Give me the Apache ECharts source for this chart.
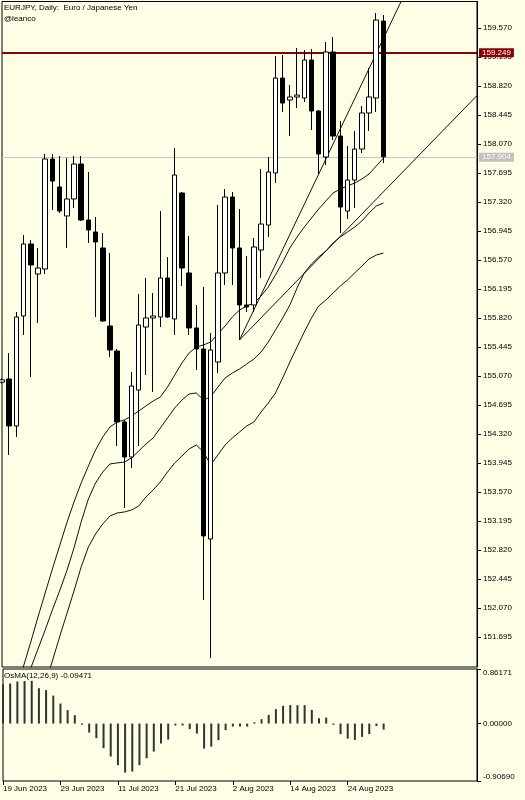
<!DOCTYPE html>
<html><head><meta charset="utf-8">
<script src="https://cdn.jsdelivr.net/npm/echarts@6/dist/echarts.min.js"></script>
<style>html,body{margin:0;padding:0;background:#fefee6}#c{width:525px;height:800px}</style>
</head><body><div id="c"></div>
<script>
const dates = ['19 Jun 2023','20 Jun 2023','21 Jun 2023','22 Jun 2023','23 Jun 2023','26 Jun 2023','27 Jun 2023','28 Jun 2023','29 Jun 2023','30 Jun 2023',
'3 Jul 2023','4 Jul 2023','5 Jul 2023','6 Jul 2023','7 Jul 2023','10 Jul 2023','11 Jul 2023','12 Jul 2023','13 Jul 2023','14 Jul 2023','17 Jul 2023','18 Jul 2023','19 Jul 2023','20 Jul 2023','21 Jul 2023','24 Jul 2023','25 Jul 2023','26 Jul 2023','27 Jul 2023','28 Jul 2023','31 Jul 2023',
'1 Aug 2023','2 Aug 2023','3 Aug 2023','4 Aug 2023','7 Aug 2023','8 Aug 2023','9 Aug 2023','10 Aug 2023','11 Aug 2023','14 Aug 2023','15 Aug 2023','16 Aug 2023','17 Aug 2023','18 Aug 2023','21 Aug 2023','22 Aug 2023','23 Aug 2023','24 Aug 2023','25 Aug 2023','28 Aug 2023','29 Aug 2023','30 Aug 2023','31 Aug 2023'];

const open = [154.99,155.031,154.423,155.846,156.777,156.389,156.453,157.876,157.514,157.139,157.359,157.811,157.087,156.932,156.725,155.716,155.393,154.475,154.022,154.888,155.703,155.820,155.833,156.337,155.807,157.436,156.402,155.691,155.419,152.962,155.251,156.402,157.384,156.725,155.988,155.988,156.699,157.022,157.695,158.923,158.639,158.678,158.665,159.156,158.497,157.902,159.260,158.173,157.203,157.604,158.005,158.471,158.665,159.660];
const close = [155.02,154.423,155.833,156.777,156.505,156.466,157.876,157.591,157.203,157.359,157.811,157.087,156.958,156.803,155.781,155.406,154.475,154.022,154.940,155.729,155.820,155.846,156.337,155.833,157.669,156.466,155.691,155.419,153.001,155.406,156.402,157.384,156.725,155.988,155.962,156.738,157.035,157.708,158.923,158.600,158.678,158.703,159.156,158.497,157.940,159.260,158.173,157.255,157.604,158.005,158.471,158.678,159.673,157.904];
const high = [155.04,155.367,155.897,156.893,156.828,156.725,157.940,157.940,157.915,157.889,157.915,157.915,157.708,157.126,156.919,156.660,155.419,154.501,155.121,156.130,156.337,156.143,157.203,156.608,158.018,157.449,156.880,155.988,156.221,155.626,157.281,157.488,157.449,157.229,156.621,156.854,157.747,157.902,159.208,159.221,158.833,159.311,159.285,159.298,158.510,159.389,159.454,158.367,158.044,158.238,158.561,159.053,159.764,159.738];
const low = [154.97,154.048,154.281,155.600,155.057,155.755,156.389,157.216,157.177,156.725,157.242,157.074,156.790,155.833,155.768,155.315,154.164,153.363,153.880,154.164,155.083,154.863,155.703,155.820,155.600,156.233,155.600,155.147,152.173,151.423,155.108,156.246,156.246,155.535,155.897,155.897,156.337,156.867,157.565,158.484,158.173,158.535,158.613,158.251,157.669,157.798,158.122,156.919,157.100,157.242,157.953,158.238,158.484,157.824];

const maFast = [150.362,150.686,150.996,151.319,151.630,151.953,152.263,152.574,152.871,153.169,153.440,153.686,153.906,154.113,154.281,154.410,154.475,154.501,154.552,154.617,154.682,154.746,154.798,154.927,155.083,155.238,155.367,155.445,155.471,155.509,155.613,155.716,155.833,155.923,155.975,156.014,156.104,156.221,156.376,156.544,156.725,156.867,156.996,157.113,157.229,157.333,157.436,157.488,157.527,157.565,157.617,157.682,157.785,157.889];
const maMid = [150.285,150.530,150.789,151.035,151.293,151.539,151.785,152.044,152.289,152.548,152.845,153.182,153.479,153.686,153.828,153.932,153.945,153.957,154.009,154.100,154.190,154.268,154.397,154.526,154.656,154.759,154.837,154.850,154.759,154.798,154.927,155.044,155.108,155.160,155.225,155.289,155.380,155.509,155.664,155.820,155.988,156.208,156.402,156.518,156.609,156.686,156.790,156.867,156.932,156.996,157.074,157.178,157.268,157.307];
const maSlow = [149.302,149.599,149.897,150.194,150.492,150.789,151.087,151.384,151.694,151.992,152.289,152.600,152.858,153.026,153.156,153.259,153.298,153.311,153.337,153.388,153.505,153.595,153.699,153.828,153.945,154.035,154.126,154.177,154.087,153.919,154.048,154.177,154.268,154.345,154.423,154.475,154.604,154.720,154.850,155.044,155.251,155.445,155.639,155.820,155.975,156.052,156.143,156.233,156.311,156.402,156.492,156.583,156.634,156.660];

const osma = [0.62,0.632,0.664,0.670,0.675,0.559,0.528,0.442,0.316,0.212,0.133,-0.02,-0.142,-0.231,-0.389,-0.521,-0.657,-0.774,-0.758,-0.657,-0.547,-0.442,-0.316,-0.253,-0.03,-0.03,-0.088,-0.158,-0.395,-0.363,-0.262,-0.104,-0.047,-0.047,-0.047,0.02,0.070,0.137,0.228,0.280,0.291,0.291,0.291,0.216,0.085,0.095,-0.02,-0.167,-0.237,-0.258,-0.210,-0.167,-0.04,-0.09471];

const trendSteep = [[33, 155.535], [56, 160.02]];
const trendFlat = [[33, 155.535], [66, 158.697]];
const levels = [159.249, 157.904];

const yTicks = [151.695,152.070,152.445,152.820,153.195,153.570,153.945,154.320,154.695,155.070,155.445,155.820,156.195,156.570,156.945,157.320,157.695,158.070,158.445,158.820,159.195,159.570];
const osmaTicks = [-0.90690, 0, 0.86171];

const FUTURE = 13;
const cats = dates.concat(new Array(FUTURE).fill(''));
const candles = dates.map((d, i) => [open[i], close[i], low[i], high[i]]);
const FONT = 'Liberation Sans';
const tStyle = {fontSize: 8, fontWeight: 'normal', color: '#000', fontFamily: FONT};
const every8 = (idx, val) => idx % 8 === 0 && val !== '';

const chart = echarts.init(document.getElementById('c'), null, {renderer: 'canvas'});
const maStyle = {type: 'line', xAxisIndex: 0, yAxisIndex: 0, showSymbol: false, symbol: 'none', clip: true,
  lineStyle: {color: '#111', width: 1}, silent: true, z: 3};

chart.setOption({
  backgroundColor: '#fefee6',
  animation: false,
  textStyle: {fontFamily: FONT},
  title: [
    {text: 'EURJPY, Daily:  Euro / Japanese Yen', left: 4, top: 4, padding: 0, textStyle: tStyle},
    {text: '@leanco', left: 4, top: 15, padding: 0, textStyle: tStyle},
    {text: 'OsMA(12,26,9) -0.09471', left: 4, top: 672, padding: 0, textStyle: tStyle}
  ],
  grid: [
    {left: 2, right: 48, top: 1.5, bottom: 133, show: true, borderColor: '#000', borderWidth: 1, backgroundColor: 'transparent'},
    {left: 2, right: 48, top: 669, bottom: 19, show: true, borderColor: '#000', borderWidth: 1, backgroundColor: 'transparent'}
  ],
  xAxis: [
    {type: 'category', gridIndex: 0, data: cats, boundaryGap: false,
     axisLine: {show: false, onZero: false}, axisTick: {show: false}, axisLabel: {show: false}, splitLine: {show: false}},
    {type: 'category', gridIndex: 1, data: cats, boundaryGap: false, position: 'bottom',
     axisLine: {show: false, onZero: false},
     axisTick: {show: true, interval: every8, length: 4, lineStyle: {color: '#000'}},
     axisLabel: {show: true, interval: every8, align: 'left', margin: 4, fontSize: 8, color: '#000', fontFamily: FONT},
     splitLine: {show: false}}
  ],
  yAxis: [
    {type: 'value', gridIndex: 0, position: 'right', min: 151.306, max: 159.913, scale: true,
     axisLine: {show: true, lineStyle: {color: '#000'}},
     axisTick: {show: true, length: 4, customValues: yTicks, lineStyle: {color: '#000'}},
     axisLabel: {show: true, customValues: yTicks, formatter: v => v.toFixed(3), fontSize: 8, color: '#000', margin: 6, fontFamily: FONT},
     splitLine: {show: false}},
    {type: 'value', gridIndex: 1, position: 'right', min: -0.90690, max: 0.86171,
     axisLine: {show: true, lineStyle: {color: '#000'}},
     axisTick: {show: true, length: 4, customValues: osmaTicks, lineStyle: {color: '#000'}},
     axisLabel: {show: true, customValues: osmaTicks, formatter: v => v.toFixed(5), fontSize: 8, color: '#000', margin: 6, fontFamily: FONT,
       verticalAlignMaxLabel: 'top', verticalAlignMinLabel: 'bottom'},
     splitLine: {show: false}}
  ],
  series: [
    Object.assign({}, maStyle, {name: 'maSlow', data: maSlow}),
    Object.assign({}, maStyle, {name: 'maMid', data: maMid}),
    Object.assign({}, maStyle, {name: 'maFast', data: maFast}),
    Object.assign({}, maStyle, {name: 'trendSteep', data: trendSteep}),
    Object.assign({}, maStyle, {name: 'trendFlat', data: trendFlat}),
    {type: 'candlestick', xAxisIndex: 0, yAxisIndex: 0, data: candles, barWidth: 5, clip: true, z: 4,
     itemStyle: {color: '#ffffff', color0: '#000000', borderColor: '#000000', borderColor0: '#000000', borderWidth: 1},
     markLine: {symbol: 'none', silent: true, animation: false, z: 1,
       data: [
         {yAxis: levels[0], lineStyle: {color: '#8b0000', width: 2, type: 'solid'},
          label: {show: true, position: 'end', distance: 2, formatter: levels[0].toFixed(3), color: '#fff', backgroundColor: '#8b0000', padding: [1, 3, 0, 3], fontSize: 8, fontFamily: FONT}},
         {yAxis: levels[1], lineStyle: {color: '#c4c4c4', width: 1, type: 'solid'},
          label: {show: true, position: 'end', distance: 2, formatter: levels[1].toFixed(3), color: '#fff', backgroundColor: '#c0c0c0', padding: [1, 3, 0, 3], fontSize: 8, fontFamily: FONT}}
       ]}},
    {type: 'bar', xAxisIndex: 1, yAxisIndex: 1, data: osma, barWidth: 2, itemStyle: {color: '#333'}, silent: true}
  ]
});
</script></body></html>
